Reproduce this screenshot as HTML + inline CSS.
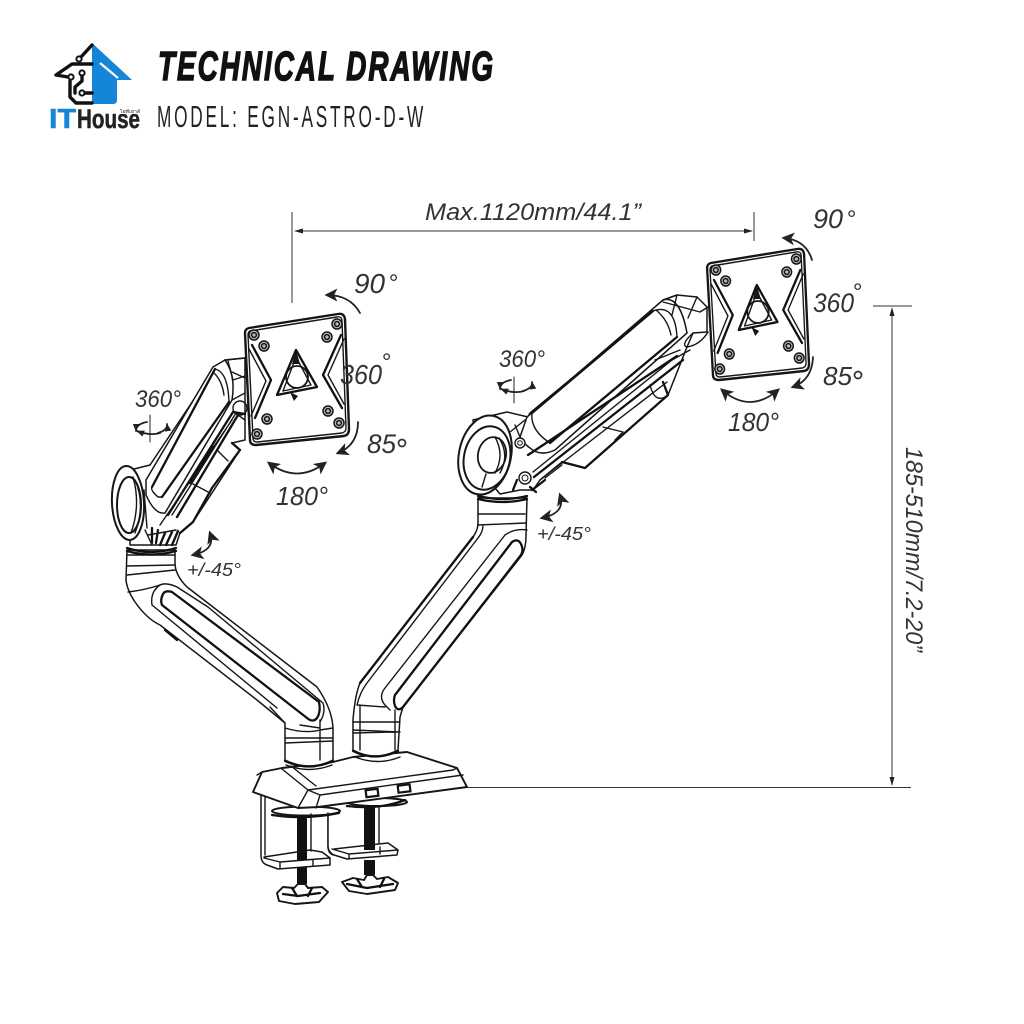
<!DOCTYPE html>
<html>
<head>
<meta charset="utf-8">
<style>
html,body{margin:0;padding:0;background:#fff;width:1024px;height:1024px;overflow:hidden}
svg{display:block}
.t{font-family:"Liberation Sans",sans-serif;font-style:italic;fill:#333}
.d{fill:#fff;stroke:#161616;stroke-width:1.5;stroke-linejoin:round;stroke-linecap:round}
.n{fill:none;stroke:#161616;stroke-width:1.4;stroke-linejoin:round;stroke-linecap:round}
.h{fill:none;stroke:#111;stroke-width:2.3;stroke-linejoin:round;stroke-linecap:round}
.a{fill:none;stroke:#222;stroke-width:1.8;stroke-linecap:round}
.l{fill:none;stroke:#111;stroke-width:3.4;stroke-linecap:round;stroke-linejoin:round}
</style>
</head>
<body>
<svg width="1024" height="1024" viewBox="0 0 1024 1024" xmlns="http://www.w3.org/2000/svg">
<defs>
<marker id="m" viewBox="0 0 10 10" refX="8" refY="5" markerWidth="13" markerHeight="13" markerUnits="userSpaceOnUse" orient="auto-start-reverse"><path d="M0 0L10 5L0 10L2.5 5Z" fill="#222"/></marker>
<marker id="s" viewBox="0 0 10 10" refX="9" refY="5" markerWidth="8" markerHeight="8" markerUnits="userSpaceOnUse" orient="auto-start-reverse"><path d="M0 1L10 5L0 9Z" fill="#222"/></marker>
<g id="plate">
<path class="d" style="stroke-width:2.4" d="M249 328L338 314Q344 313 345 319L349 429Q349 435 344 436L256 445Q250 445 250 440L245 333Q245 329 249 328Z"/>
<path class="n" d="M250 331L337 317Q342 316 342 321L346 428Q346 432 342 433L257 442Q253 442 253 438L248 335Q248 332 250 331Z"/>
<g fill="#bbb" stroke="#161616" stroke-width="1.5">
<circle cx="254" cy="335" r="5"/><circle cx="254" cy="335" r="2.400"/>
<circle cx="337" cy="324" r="5"/><circle cx="337" cy="324" r="2.400"/>
<circle cx="339" cy="423" r="5"/><circle cx="339" cy="423" r="2.400"/>
<circle cx="257" cy="434" r="5"/><circle cx="257" cy="434" r="2.400"/>
<circle cx="264" cy="346" r="5"/><circle cx="264" cy="346" r="2.400"/>
<circle cx="327" cy="337" r="5"/><circle cx="327" cy="337" r="2.400"/>
<circle cx="328" cy="411" r="5"/><circle cx="328" cy="411" r="2.400"/>
<circle cx="267" cy="419" r="5"/><circle cx="267" cy="419" r="2.400"/>
</g>
<path class="h" d="M252 345L271 380L255 418"/>
<path class="n" d="M249 349L266 381L251 416"/>
<path class="h" d="M341 335L323 375L342 408"/>
<path class="n" d="M344 339L328 375L344 404"/>
<path class="h" d="M296 350L277 395L317 387Z"/>
<path class="n" d="M296 357L283 391L311 385Z"/>
<circle class="n" style="stroke-width:1.800" cx="297" cy="377" r="11"/>
<path d="M296 350L300 364L292 364Z" fill="#161616"/>
<path d="M290 392L298 396L294 401Z" fill="#161616"/>
</g>
</defs>

<!-- Logo -->
<path d="M92 43L132 80L117 80L117 100Q117 104 113 104L92 104Z" fill="#1585d8"/>
<path d="M100 63L118 78" stroke="#fff" stroke-width="2.200" fill="none"/>
<path class="l" d="M92 45L81 57"/><circle cx="79" cy="59" r="2.600" fill="#fff" stroke="#111" stroke-width="2"/>
<path class="l" d="M92 64L72 64L56 75L68 77"/><circle cx="71" cy="77" r="2.600" fill="#fff" stroke="#111" stroke-width="2"/>
<path class="l" d="M70 81L70 97L76 103L92 103"/>
<circle cx="82" cy="73" r="2.600" fill="#fff" stroke="#111" stroke-width="2"/>
<path class="l" d="M82 76L82 81L75 87L75 93"/>
<circle cx="82" cy="93" r="2.600" fill="#fff" stroke="#111" stroke-width="2"/>
<path class="l" d="M85 93L92 93"/>
<text x="49" y="128" font-family="Liberation Sans,sans-serif" font-weight="700" font-size="28" fill="#1585d8" stroke="#1585d8" stroke-width=".6" textLength="27" lengthAdjust="spacingAndGlyphs">IT</text>
<text x="77" y="128" font-family="Liberation Sans,sans-serif" font-weight="700" font-size="27" fill="#222" stroke="#222" stroke-width=".5" textLength="63" lengthAdjust="spacingAndGlyphs">House</text>
<rect x="119" y="106" width="22" height="8" fill="#fff"/>
<text x="120" y="113" font-family="Liberation Sans,sans-serif" font-size="4.500" fill="#222" textLength="20" lengthAdjust="spacingAndGlyphs">ไอทีเฮาส์</text>

<!-- Title -->
<text x="158" y="80" font-family="Liberation Sans,sans-serif" font-weight="700" font-style="italic" font-size="41" letter-spacing="3" fill="#111" stroke="#111" stroke-width="1.500" textLength="337" lengthAdjust="spacingAndGlyphs">TECHNICAL DRAWING</text>
<text x="157" y="127" font-family="Liberation Sans,sans-serif" font-size="31" letter-spacing="5" fill="#222" textLength="269" lengthAdjust="spacingAndGlyphs">MODEL: EGN-ASTRO-D-W</text>

<!-- Dimensions -->
<path d="M292 212V303M754 212V241M295 231H752M873 306H912M892 309V785M465 787.500H911" stroke="#333" stroke-width="1" fill="none"/>
<path d="M294 231L303 228.500L303 233.500ZM753 231L744 228.500L744 233.500ZM892 307L889.500 316H894.500ZM892 786L889.500 777H894.500Z" fill="#222"/>
<text class="t" x="425" y="220" font-size="24" textLength="216" lengthAdjust="spacingAndGlyphs">Max.1120mm/44.1”</text>
<text class="t" transform="translate(906 447) rotate(90)" font-size="24" textLength="205" lengthAdjust="spacingAndGlyphs">185-510mm/7.2-20”</text>

<!-- Clamps -->
<g>
<path class="d" d="M261 795V855Q261 863 267 865L278 869L330 865L330 858L322 852L310 850L264 857"/>
<path class="n" d="M265 795V855M264 858L280 862L330 858M280 862V868M313 860V866"/>
<ellipse class="d" style="stroke-width:2" cx="306" cy="811" rx="34" ry="4.500"/>
<path class="h" d="M272 815Q305 820 339 813"/>
<path class="n" d="M311 814V851M328 814V847Q328 853 333 855"/>
<rect x="297" y="815" width="10" height="45" fill="#111"/>
<rect x="297" y="867" width="10" height="17" fill="#111"/>
<path class="d" style="stroke-width:1.900" d="M277 893L283 887L294 888L298 884H305L308 888L322 887L328 892L319 902L295 904L279 901Z"/>
<path class="h" d="M283 894L298 896L320 893M292 888L297 896M312 888L308 896"/>

<path class="d" d="M328 813V846Q328 852 334 855L347 859L397 855L398 850L388 843L334 849"/>
<path class="n" d="M332 849L349 854L398 850M349 854V858M380 847V854"/>
<ellipse class="d" style="stroke-width:2" cx="377" cy="802" rx="30" ry="4"/>
<path class="h" d="M347 806Q380 810 405 800"/>
<path class="n" d="M379 806V843"/>
<rect x="364" y="805" width="11" height="45" fill="#111"/>
<rect x="364" y="860" width="11" height="15" fill="#111"/>
<path class="d" style="stroke-width:1.900" d="M342 882L353 878L364 880L367 875H373L377 879L388 877L398 883L395 890L367 894L349 891Z"/>
<path class="h" d="M347 884L367 888L393 884M357 879L362 887M384 879L380 887"/>
</g>

<!-- Base -->
<path class="d" style="stroke-width:1.900" d="M253 792L262 772L282 768L333 762L353 757L407 752L457 768L467 787L318 807L298 808Z"/>
<path class="n" d="M282 769L308 790L298 808M308 790L453 770L457 768M320 795L463 775M320 795L316 808M308 790L320 795M291 766L316 786"/>
<path class="n" d="M257 775L262 772"/>
<rect x="366" y="789.500" width="12" height="7" fill="#fff" stroke="#111" stroke-width="2.200" transform="rotate(-7 372 793)"/>
<rect x="398" y="785" width="12" height="7" fill="#fff" stroke="#111" stroke-width="2.200" transform="rotate(-7 404 788)"/>

<!-- Left lower arm -->
<path class="d" d="M127 550L126 580Q127 590 135 602Q147 619 160 625L257 700L285 723V760Q309 772 333 760V730Q333 710 317 687L187 587Q175 575 175 563V550Z"/>
<path class="n" d="M127 555H175M127 566L175 565M127 575L175 570M128 592Q145 590 160 585"/>
<path class="h" d="M127 548Q151 556 176 548M127 551Q151 558 176 551"/>
<path class="n" d="M160 585Q150 592 152 605L277 708"/>
<path class="n" d="M160 585Q166 582 177 587L208 607L323 703Q326 712 320 722"/>
<path class="h" d="M172 592Q165 590 163 594Q160 600 162 605L307 718Q313 723 317 718Q321 712 319 702Z"/>
<path class="h" d="M165 630L177 640"/>
<path class="n" d="M270 707L285 723M285 728Q305 734 320 730L333 728M285 738H333M285 743L333 741M320 720V760M300 725L320 728"/>
<path class="h" d="M285 761Q309 772 333 761"/>
<path class="n" d="M286 765Q309 774 332 765"/>

<!-- Right lower arm -->
<path class="d" d="M478 498V523Q478 530 473 537L360 683Q355 695 353 720V750Q375 762 398 750L400 717L403 707L522 555Q526 548 526 535L527 498Z"/>
<path class="n" d="M478 514H525M478 525L526 523M483 525Q483 532 478 538L367 683Q360 692 357 705M505 535L385 688Q378 697 385 705L390 710M505 535Q515 528 527 530M357 705L385 707M353 722H400M353 730L400 732M353 733L395 732M360 705V750M395 710V750"/>
<path class="h" d="M512 542Q518 538 521 544Q524 550 521 555L403 707Q398 712 395 706Q393 700 395 695Z"/>
<path class="h" d="M360 683L473 537M478 499Q503 505 527 499M478 496Q503 502 527 496M353 751Q375 762 398 751"/>
<path class="n" d="M355 757Q378 766 400 757"/>

<!-- Right upper arm -->
<path class="d" d="M473 420L507 412L528 417L530 413L653 311L663 300L677 295L697 297L707 307V332L693 333L687 347L668 395L585 468L562 462L540 480L533 490L520 490L500 494L480 470Z"/>
<ellipse class="d" style="stroke-width:2" cx="485" cy="455" rx="26" ry="40" transform="rotate(12 485 455)"/>
<ellipse class="n" style="stroke-width:2" cx="487" cy="458" rx="23" ry="32" transform="rotate(12 487 458)"/>
<ellipse class="d" style="stroke-width:1.800" cx="492" cy="455" rx="14" ry="18" transform="rotate(12 492 455)"/>
<path class="n" d="M499 438Q510 455 500 473M495 437Q505 455 495 473M486 474L482 487"/>
<path class="d" d="M520 437L527 417L663 300Q680 295 687 333L555 450Q540 457 530 448Q524 444 520 437Z"/>
<path class="h" d="M532 413L653 311M677 337L550 443"/>
<path class="n" d="M532 413Q530 430 550 443M653 311Q675 303 677 337M656 310Q668 320 671 335"/>
<path class="n" d="M555 450L687 333M663 300L677 295"/>
<path class="h" d="M528 455L677 356M534 477L683 360"/>
<path class="n" d="M533 472L672 360M540 480L667 382"/>
<path class="h" d="M562 462L585 468L668 395L663 382"/>
<path class="n" d="M603 427L623 432L615 440M650 385Q655 405 668 395M545 478L562 465M655 360L680 350"/>
<path class="n" d="M677 295L672 315M697 297L688 318M663 302L700 312L708 307M693 333Q680 345 687 347Q700 345 708 332M672 360L690 350"/>
<circle cx="520" cy="443" r="5" fill="#fff" stroke="#161616" stroke-width="1.400"/><circle cx="520" cy="443" r="2.300" fill="none" stroke="#161616"/>
<circle cx="525" cy="478" r="6" fill="#fff" stroke="#161616" stroke-width="1.400"/><circle cx="525" cy="478" r="3" fill="none" stroke="#161616"/>
<path class="h" d="M513 490L517 480M532 490L545 480M530 487L536 492"/>
<path class="n" d="M515 425L520 437M510 432L525 420"/>

<!-- Left upper arm -->
<path class="d" d="M130 470L150 465L215 368L225 360L245 358V440L232 443L240 450L193 522L180 533L176 545L130 545Z"/>
<ellipse class="d" style="stroke-width:2" cx="128" cy="503" rx="16" ry="37" transform="rotate(-3 128 503)"/>
<ellipse class="n" style="stroke-width:2" cx="129" cy="505" rx="12" ry="28"/>
<path class="n" d="M133 477Q141 505 131 533M135 480Q146 505 135 533M144 490L147 528"/>
<path class="d" d="M146 480L213 367L225 360Q236 375 232 400L165 513Q155 515 146 495Z"/>
<path class="h" d="M152 487L215 369M229 402L162 497"/>
<path class="n" d="M152 487Q150 490 158 497L162 497M215 369Q228 372 229 402M213 372Q222 380 224 395"/>
<path class="h" d="M168 515L233 412M177 517L238 415"/>
<path class="n" d="M172 515L236 413M160 525L232 420"/>
<path class="h" d="M180 533L193 522L212 488L240 450L232 443M213 447L190 483"/>
<path class="n" d="M193 484L210 493M217 450L228 461M228 361L233 380L245 376M232 400L245 393M225 360L245 358M232 372L245 378M238 415L245 420"/>
<circle class="n" cx="240" cy="408" r="7"/>
<path class="h" d="M233 412L245 414"/>
<path class="h" d="M152 528V543M158 530L156 543M165 533L160 545M172 532L166 545M178 531L172 545"/>
<path class="n" d="M148 535L176 530M145 530L152 545"/>

<!-- Plates -->
<use href="#plate"/>
<use href="#plate" transform="matrix(.971 0 .0096 1 466 -65)"/>

<!-- Left arrows & labels -->
<path class="a" marker-end="url(#m)" d="M360 313Q350 295 327 295"/>
<path class="a" marker-end="url(#m)" d="M358 422Q358 445 338 453"/>
<path class="a" marker-start="url(#m)" marker-end="url(#m)" d="M269 463Q297 484 325 463"/>
<path class="a" style="stroke-width:1" d="M150 415V442"/>
<path class="a" marker-start="url(#s)" d="M136 431Q136 424 147 422"/>
<path class="a" marker-start="url(#s)" d="M137 431Q150 436 160 433"/>
<path class="a" marker-start="url(#s)" d="M167 424Q168 430 158 433"/>
<path class="a" marker-start="url(#m)" marker-end="url(#m)" d="M210 533Q216 550 193 555"/>
<text class="t" x="354" y="293" font-size="28" textLength="31" lengthAdjust="spacingAndGlyphs">90</text><text class="t" x="388" y="291" font-size="24">°</text>
<text class="t" x="340" y="384" font-size="28" textLength="42" lengthAdjust="spacingAndGlyphs">360</text><text class="t" x="381" y="370" font-size="24">°</text>
<text class="t" x="367" y="453" font-size="27" textLength="29" lengthAdjust="spacingAndGlyphs">85</text>
<circle cx="402" cy="443" r="3.500" fill="none" stroke="#333" stroke-width="1.700"/>
<text class="t" x="276" y="505" font-size="26" textLength="52" lengthAdjust="spacingAndGlyphs">180°</text>
<text class="t" x="135" y="407" font-size="24" textLength="46" lengthAdjust="spacingAndGlyphs">360°</text>
<text class="t" x="187" y="576" font-size="18" textLength="54" lengthAdjust="spacingAndGlyphs">+/-45°</text>

<!-- Right arrows & labels -->
<path class="a" marker-end="url(#m)" d="M812 260Q806 240 784 238"/>
<path class="a" marker-end="url(#m)" d="M813 357Q812 380 793 387"/>
<path class="a" marker-start="url(#m)" marker-end="url(#m)" d="M722 390Q750 414 778 390"/>
<path class="a" style="stroke-width:1" d="M514 377V403"/>
<path class="a" marker-start="url(#s)" d="M500 389Q500 382 511 380"/>
<path class="a" marker-start="url(#s)" d="M501 389Q514 394 524 391"/>
<path class="a" marker-start="url(#s)" d="M532 382Q533 388 523 391"/>
<path class="a" marker-start="url(#m)" marker-end="url(#m)" d="M560 495Q566 513 542 518"/>
<text class="t" x="813" y="228" font-size="27" textLength="30" lengthAdjust="spacingAndGlyphs">90</text><text class="t" x="846" y="227" font-size="24">°</text>
<text class="t" x="813" y="312" font-size="27" textLength="41" lengthAdjust="spacingAndGlyphs">360</text><text class="t" x="852" y="300" font-size="24">°</text>
<text class="t" x="823" y="385" font-size="26" textLength="29" lengthAdjust="spacingAndGlyphs">85</text>
<circle cx="858" cy="375" r="3.500" fill="none" stroke="#333" stroke-width="1.700"/>
<text class="t" x="728" y="431" font-size="26" textLength="51" lengthAdjust="spacingAndGlyphs">180°</text>
<text class="t" x="499" y="367" font-size="24" textLength="46" lengthAdjust="spacingAndGlyphs">360°</text>
<text class="t" x="537" y="540" font-size="18" textLength="54" lengthAdjust="spacingAndGlyphs">+/-45°</text>
</svg>
</body>
</html>
